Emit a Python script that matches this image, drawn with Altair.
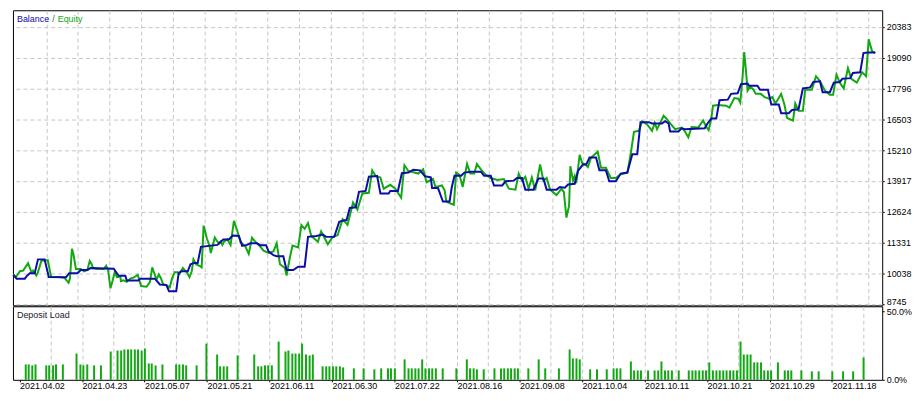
import altair as alt
import pandas as pd

# ---------------- data ----------------
# x = deal position along the tester graph (0 .. 880), value = account money
balance_points = [
    [0.3, 9982], [3.7, 9821], [12, 9821], [13.7, 9915], [17, 10050], [22, 10050], [25.3, 10629], [32, 10629],
    [36.3, 9888], [53.7, 9875], [57, 10050], [65.3, 10050], [68.7, 10185], [75.3, 10185], [78.7, 10265],
    [102, 10238], [107, 9942], [113.7, 9942], [115.3, 9740], [127, 9740], [128.7, 9821], [143.7, 9821],
    [148.7, 9578], [155.3, 9551], [158, 9295], [165.3, 9295], [167.7, 10050], [170.3, 10131], [177, 10131],
    [179.7, 10427], [183.7, 10481], [187, 10481], [190.3, 11154], [207, 11235], [210.3, 11370], [213, 11464],
    [218.5, 11464], [222.5, 11625], [228.7, 11612], [232, 11195], [237, 11235], [240.3, 11303], [247, 11303],
    [250.3, 11222], [256.3, 11222], [258.7, 10966], [263.7, 10804], [267, 10764], [273.7, 10764], [277, 10185],
    [283.7, 10185], [288.7, 10319], [295.3, 10319], [298.7, 11572], [307, 11612], [313.7, 11666], [317, 11572],
    [325.3, 11572], [330.3, 12205], [335.3, 12272], [337.7, 12272], [341, 12784], [347, 12811], [350.3, 13458],
    [357, 13498], [360.3, 14091], [368.7, 14118], [372, 13390], [380.3, 13390], [382, 13498], [389.7, 13498],
    [393.7, 14239], [400.3, 14266], [405.3, 14387], [412, 14360], [417, 14118], [423, 14064], [424.3, 13619],
    [430.3, 13619], [435.3, 13054], [442, 13054], [444.3, 13660], [447, 14131], [453.7, 14131], [457, 14266],
    [463.7, 14306], [473.7, 14306], [477, 14131], [483.7, 14131], [487, 13727], [495.3, 13727], [498.7, 13902],
    [507, 13929], [510.3, 14037], [515.3, 14037], [518.7, 13552], [527, 13552], [532, 14023], [537, 14023],
    [540.3, 13552], [550.3, 13552], [553.7, 13660], [558.7, 13633], [562, 13768], [568.7, 13795], [572, 14333],
    [577, 14603], [580.3, 14603], [583.7, 14899], [590.3, 14899], [593.7, 14360], [600.3, 14360], [603.7, 13902],
    [610.3, 13902], [615.3, 14225], [622, 14266], [627, 15034], [632, 15034], [635.3, 16381], [643.7, 16381],
    [647, 16327], [657, 16327], [660.3, 16421], [663.7, 16327], [665.3, 15990], [673.7, 15990], [677, 16125],
    [680.3, 16085], [700.3, 16125], [703, 16314], [707, 16529], [712, 16529], [715.3, 17297], [723.7, 17324],
    [727, 17566], [733.7, 17593], [737, 17970], [743.7, 17997], [745.3, 17903], [753.7, 17903], [756.3, 17741],
    [764.3, 17741], [767.7, 17122], [775.3, 17122], [777.7, 16758], [785.3, 16758], [788.7, 16893], [795.3, 16920],
    [799.7, 17795], [807, 17836], [810.3, 18065], [817, 18092], [819.7, 17634], [827, 17634], [831, 18038],
    [837, 18065], [839.7, 18199], [847.7, 18226], [850.3, 18442], [857.7, 18469], [861, 19277], [865.3, 19304],
    [873, 19304],
]

equity_points = [
    [0.3, 9996], [3, 9888], [7, 10131], [10.3, 10158], [15.3, 10467], [18.7, 10090], [20.3, 10158], [23.7, 9955],
    [25.3, 10090], [28.7, 10562], [32, 10589], [35.3, 10589], [37, 10225], [38.7, 9888], [47, 9888], [52, 9861],
    [56.3, 9646], [57.7, 9821], [59.7, 11074], [61.3, 10831], [63.7, 10225], [68.7, 10225], [72, 10131],
    [75.3, 10185], [77.7, 10562], [79.7, 10427], [81, 10265], [85.3, 10225], [92, 10225], [94.3, 10360],
    [96.3, 10185], [98.7, 9417], [101, 9754], [103, 10090], [105.3, 9888], [108.7, 9915], [109.3, 9713],
    [112, 9754], [115.3, 9686], [118.7, 9821], [122, 9861], [126.3, 9982], [129.7, 9511], [135.3, 9484],
    [138.7, 9686], [141, 10292], [142.7, 10090], [145.3, 9780], [147.7, 9996], [149.7, 9848], [152, 9592],
    [155.3, 9551], [158.7, 9457], [161, 9821], [163.7, 10090], [167, 10090], [168.7, 10023], [172, 10265],
    [173.7, 10185], [176, 10090], [178.7, 9888], [181, 10131], [182.7, 10629], [185.3, 10427], [188.7, 10360],
    [191, 10292], [192, 11127], [193, 12043], [194.7, 11774], [196.3, 11505], [198.7, 11235], [200.3, 10898],
    [202, 11168], [204.3, 11545], [207, 11370], [208.7, 11303], [210.3, 11370], [212, 11235], [213.7, 11370],
    [217, 11470], [220.3, 11235], [223.7, 12245], [227, 11841], [230.3, 11370], [235.3, 11168], [238.7, 10858],
    [242, 11532], [245.3, 11370], [250.3, 11168], [253.7, 10993], [258.7, 10898], [263.7, 10966], [267, 11303],
    [270.3, 10427], [275.3, 10265], [277, 9955], [280.3, 10696], [283, 11208], [288.7, 11127], [292, 12070],
    [295.3, 11909], [298.7, 12151], [302, 11612], [308.7, 11370], [312, 11801], [318.7, 11262], [323.7, 11572],
    [328.7, 11639], [333.7, 12313], [338.7, 12070], [344.3, 13013], [348.7, 12717], [353.7, 13390], [360.3, 13417],
    [363.7, 14360], [367, 14131], [372, 14064], [375.3, 13592], [382, 13754], [387, 13592], [393, 13215],
    [396.3, 14576], [400.3, 14333], [410.3, 14225], [415.3, 14401], [418.7, 13862], [425.3, 13997], [427.7, 13660],
    [434.3, 13727], [437, 13525], [438.7, 13054], [443.7, 12959], [446.3, 12919], [448.7, 14266], [452, 14172],
    [455.3, 13660], [459.7, 14630], [463, 14225], [467, 14225], [469.7, 14630], [473.7, 14401], [478.7, 14172],
    [483.7, 14037], [490.3, 13956], [497, 13996], [502, 13592], [508.7, 13552], [512, 14225], [515.3, 13929],
    [518.7, 14091], [522, 13592], [525.3, 14064], [528.7, 13525], [533.7, 14603], [537, 13929], [540.3, 14037],
    [543.7, 13552], [550.3, 13323], [555.3, 13592], [557.7, 13458], [560.3, 12380], [563, 12878], [564.3, 14535],
    [567, 13929], [568.7, 14131], [570.3, 13822], [573.7, 15007], [576.3, 14670], [579.7, 14603], [582, 14495],
    [585.3, 14899], [592, 15142], [595.3, 14468], [600.3, 14468], [605.3, 14037], [610.3, 14037], [615.3, 14199],
    [622, 14266], [625.3, 15034], [628.7, 15977], [633.7, 16017], [637, 16421], [642, 16286], [647, 16017],
    [649.7, 16354], [652, 16084], [655.3, 16354], [658.7, 16650], [662.5, 16489], [666, 16300], [670.3, 16085],
    [677, 16152], [680.3, 15990], [683.7, 15748], [687, 16179], [693.7, 16152], [698.7, 16448], [702, 16179],
    [704.3, 16044], [707, 16529], [708.7, 17068], [713.7, 17095], [722, 17068], [725.3, 16987], [730.3, 17391],
    [734.3, 17364], [736.3, 17203], [738.7, 18307], [740.3, 19317], [742, 18577], [743.7, 17701], [746.3, 17876],
    [749.7, 17741], [752, 17566], [757, 17566], [761, 17432], [765.3, 17364], [768.7, 17432], [772, 17162],
    [777.7, 17566], [781, 17122], [783.7, 16556], [789.7, 16448], [792, 17162], [795.3, 16853], [799.7, 16853],
    [802, 17741], [808.7, 17741], [813, 18307], [817, 18105], [822, 17701], [827, 17526], [830.3, 17526],
    [833.7, 18375], [837, 18038], [841, 17795], [845.3, 18644], [848.7, 18199], [854.3, 18038], [859.7, 18469],
    [863.7, 18307], [866.3, 19856], [869.7, 19358], [873, 19277],
]

# deposit load bars: [position, percent]
load_points = [
    [8, 11.3], [11, 11.3], [14.7, 10.6], [18, 11.3], [29, 10.6], [32, 10.6], [36, 10.6], [39, 11.3], [46, 11.3],
    [60, 19.3], [64, 11.3], [67, 10.6], [71, 11.3], [78, 10.6], [85, 10.6], [95, 20.8], [102, 21.5], [105.7, 21.5],
    [109, 22.3], [112.7, 22.3], [116, 22.3], [119.7, 22.3], [123, 22.3], [126.7, 21.5], [130, 23.0], [134, 12.0],
    [137, 12.0], [141, 10.6], [148, 11.3], [162, 11.3], [165.3, 11.3], [169, 11.3], [172.3, 10.6], [183, 10.6],
    [193, 26.6], [204, 18.6], [207, 9.9], [210.7, 9.9], [214.3, 9.9], [225, 17.9], [242, 18.6], [246, 9.9],
    [249.3, 9.9], [253, 10.6], [256.3, 10.6], [260, 10.6], [267, 28.1], [274, 20.8], [277, 21.5], [281, 19.3],
    [284.3, 19.3], [288, 19.3], [291, 26.6], [295, 18.6], [298.7, 17.9], [302, 18.6], [312, 9.9], [315.7, 9.9],
    [319, 9.9], [322.7, 9.9], [326, 9.9], [329.7, 9.9], [333, 9.1], [344, 8.4], [354, 8.4], [365, 7.7], [372, 8.4],
    [379, 8.4], [382, 8.4], [386, 8.4], [396, 15.0], [400, 8.4], [403.3, 8.4], [407, 8.4], [410.3, 8.4], [414, 15.0],
    [417.3, 8.4], [421, 8.4], [424.3, 8.4], [428, 8.4], [435, 8.4], [449, 8.4], [459.7, 15.0], [463, 8.4],
    [466.7, 8.4], [470, 7.7], [477, 7.7], [488, 8.4], [494.7, 8.4], [498, 8.4], [501.7, 8.4], [505, 8.4],
    [508.7, 8.4], [512, 8.4], [522.7, 8.4], [533.3, 15.0], [540, 8.4], [554, 8.4], [565, 22.3], [568.3, 15.7],
    [572, 15.7], [575.3, 15.0], [586, 7.7], [593, 7.7], [603, 7.7], [610, 8.4], [613.3, 8.4], [617, 8.4],
    [627.7, 13.5], [631, 6.9], [634.7, 6.9], [638, 6.9], [645.3, 6.9], [652, 6.9], [655.7, 6.9], [659, 13.5],
    [662.7, 6.9], [666, 6.9], [669.7, 6.9], [676.7, 6.9], [687, 6.9], [690.7, 6.9], [694, 6.9], [697.7, 6.9],
    [701.3, 6.9], [704.7, 6.9], [708, 12.8], [711.7, 6.9], [715.3, 6.9], [718.7, 6.9], [722.3, 6.9], [725.7, 6.9],
    [729.3, 6.9], [732.7, 6.9], [736.3, 6.9], [740, 28.1], [743.3, 18.6], [747, 18.6], [750.3, 18.6], [754, 12.8],
    [757.3, 12.8], [761, 12.8], [764.3, 6.9], [768, 6.9], [771.3, 6.9], [778.3, 12.8], [785.3, 6.9], [788.7, 6.9],
    [792, 6.9], [802.3, 6.9], [813, 6.2], [820, 6.2], [834, 6.2], [845, 6.2], [855.3, 6.2], [866, 16.4],
]

date_labels = ["2021.04.02", "2021.04.23", "2021.05.07", "2021.05.21", "2021.06.11", "2021.06.30",
               "2021.07.22", "2021.08.16", "2021.09.08", "2021.10.04", "2021.10.11", "2021.10.21",
               "2021.10.29", "2021.11.18"]
money_ticks = [8745, 10038, 11331, 12624, 13917, 15210, 16503, 17796, 19090, 20383]
load_ticks = [0, 50]
legend_words = ["Balance", "/", "Equity"]
panel_name = "Deposit Load"

# ---------------- styling ----------------
BLUE = "#0c0ca8"
GREEN = "#12a812"
GRID = "#c6c6c6"
FONT = "Liberation Sans"
W, H1, H2 = 875, 297, 74

bal_df = pd.DataFrame(balance_points, columns=["d", "v"])
eq_df = pd.DataFrame(equity_points, columns=["d", "v"])
load_df = pd.DataFrame(load_points, columns=["d", "p"])

xs = alt.Scale(domain=[0, 880], nice=False, zero=False)
ys = alt.Scale(domain=[8704, 21070], nice=False, zero=False)
ls = alt.Scale(domain=[0, 54], nice=False, zero=False)

grid_vals = [33.7 + 32 * k for k in range(27)]
tick_vals = [1.7] + grid_vals

x_top_axis = alt.Axis(values=grid_vals, grid=True, labels=False, ticks=False, domain=False, title=None,
                      gridColor=GRID, gridDash=[4, 3], gridWidth=1)
y_top_axis = alt.Axis(orient="right", values=money_ticks, grid=True, gridColor=GRID, gridDash=[4, 3],
                      domain=False, tickSize=2, tickColor="black", labelPadding=2, labelColor="black",
                      labelFont=FONT, labelFontSize=9, title=None, format="d", labelOverlap=False,
                      labelBaseline={"condition": {"test": "datum.value < 9000", "value": "alphabetic"},
                                     "value": "middle"})

eq_line = alt.Chart(eq_df).mark_line(color=GREEN, strokeWidth=2).encode(
    x=alt.X("d:Q", scale=xs, axis=x_top_axis), y=alt.Y("v:Q", scale=ys, axis=y_top_axis))
bal_line = alt.Chart(bal_df).mark_line(color=BLUE, strokeWidth=2).encode(
    x=alt.X("d:Q", scale=xs, axis=x_top_axis), y=alt.Y("v:Q", scale=ys, axis=y_top_axis))

def word(text, x, color):
    return alt.Chart(pd.DataFrame({"t": [text]})).mark_text(
        align="left", baseline="middle", font=FONT, fontSize=9, color=color
    ).encode(x=alt.value(x), y=alt.value(9), text="t:N")

legend = word(legend_words[0], 4, BLUE) + word(legend_words[1], 39.5, "#505070") + word(legend_words[2], 45, GREEN)

top = alt.layer(eq_line, bal_line, legend).properties(width=W, height=H1)

labs_js = "[" + ",".join("'" + s + "'" for s in date_labels) + "]"
x_dep_axis = alt.Axis(
    values=tick_vals, grid=True, gridColor=GRID, gridDash=[4, 3],
    gridOpacity={"condition": {"test": "datum.value < 10", "value": 0}, "value": 1},
    tickOpacity={"condition": {"test": "round((datum.value - 1.7) / 32) % 2 == 1", "value": 0}, "value": 1},
    labelExpr="(round((datum.value - 1.7) / 32) % 2 == 0) ? " + labs_js + "[round((datum.value - 1.7) / 64)] : ''",
    labelAlign="left", labelBaseline="top", labelPadding=0, tickSize=2, tickColor="black",
    domain=False, labelFont=FONT, labelFontSize=9, labelColor="black", labelOverlap=False,
    labelFlush=False, title=None)
y_dep_axis = alt.Axis(orient="right", values=load_ticks, grid=False, domain=False, tickSize=2,
                      tickColor="black", labelPadding=2, labelFont=FONT, labelFontSize=9, labelColor="black",
                      labelExpr="format(datum.value, '.1f') + '%'", title=None, zindex=1)

bars = alt.Chart(load_df).mark_bar(color=GREEN, size=2).encode(
    x=alt.X("d:Q", scale=xs, axis=x_dep_axis), y=alt.Y("p:Q", scale=ls, axis=y_dep_axis))
dep_title = alt.Chart(pd.DataFrame({"t": [panel_name]})).mark_text(
    align="left", baseline="middle", font=FONT, fontSize=9, color="#202030"
).encode(x=alt.value(4), y=alt.value(8.5), text="t:N")

dep = alt.layer(bars, dep_title).properties(width=W, height=H2)

chart = alt.vconcat(top, dep, spacing=1, bounds="flush").properties(
    padding={"left": 0, "top": 0, "right": 0, "bottom": 0}, background="white"
).configure(padding=0).configure_view(stroke="black", strokeWidth=1)

chart.save("out.html", embed_options={"renderer": "svg", "actions": False})
